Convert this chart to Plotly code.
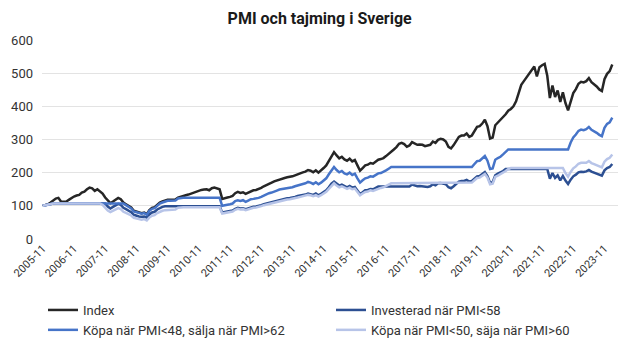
import pandas as pd
import plotly.graph_objects as go

# ---- data (monthly, 2005-11 .. 2024-02) ----
months = list(pd.period_range("2005-11", periods=220, freq="M").strftime("%Y-%m"))

tick_labels = ["2005-11", "2006-11", "2007-11", "2008-11", "2009-11", "2010-11",
               "2011-11", "2012-11", "2013-11", "2014-11", "2015-11", "2016-11",
               "2017-11", "2018-11", "2019-11", "2020-11", "2021-11", "2022-11",
               "2023-11"]

index_vals = [
    100, 102, 105, 110, 116, 122, 124, 113, 112, 112, 118, 124, 128, 131, 133, 140, 143, 150, 155, 153,
    145, 150, 143, 137, 125, 115, 108, 113, 118, 124, 120, 110, 105, 100, 95, 85, 82, 80, 78, 80,
    75, 87, 94, 96, 104, 110, 113, 116, 118, 118, 118, 119, 125, 128, 130, 132, 134, 137, 140, 143,
    146, 148, 149, 150, 147, 153, 155, 153, 150, 121, 122, 125, 127, 130, 138, 142, 139, 141, 136, 140,
    145, 147, 148, 150, 154, 159, 162, 167, 170, 174, 177, 180, 181, 184, 186, 187, 189, 192, 196, 198,
    201, 203, 208, 206, 201, 207, 200, 206, 214, 222, 236, 252, 262, 252, 243, 248, 240, 236, 242, 234,
    238, 222, 206, 214, 222, 224, 229, 227, 232, 239, 241, 244, 250, 256, 263, 270, 277, 287, 290, 286,
    278, 282, 292, 288, 284, 285, 284, 280, 281, 284, 294, 290, 299, 302, 300, 294, 278, 273, 283, 295,
    308, 312, 312, 318, 308, 312, 325, 338, 340, 348, 360, 340, 303, 306, 343, 351, 357, 366, 376, 387,
    392, 400, 415, 440, 465, 476, 487, 500, 512, 520, 490, 518, 524, 528, 492, 425, 463, 428, 448, 413,
    442, 410, 388, 418, 440, 452, 468, 474, 472, 476, 485, 473, 467, 460, 451, 446, 482, 498, 506, 526,
]

invested_58 = [
    100, 102, 105, 107, 107, 107, 107, 107, 107, 107, 107, 107, 107, 107, 107, 107, 107, 107, 107, 107,
    107, 107, 107, 107, 107, 98, 92, 97, 101, 106, 103, 94, 90, 86, 81, 73, 70, 68, 67, 68,
    64, 74, 80, 82, 89, 94, 97, 99, 99, 99, 99, 99, 99, 99, 99, 99, 99, 99, 99, 99,
    99, 99, 99, 99, 99, 99, 99, 99, 99, 80, 81, 83, 84, 86, 91, 94, 92, 93, 90, 93,
    96, 97, 98, 99, 102, 105, 107, 110, 112, 115, 117, 119, 120, 122, 123, 124, 125, 127, 130, 131,
    133, 134, 137, 136, 133, 137, 132, 136, 141, 147, 156, 167, 173, 167, 161, 164, 159, 156, 160, 155,
    157, 147, 136, 141, 147, 148, 151, 150, 153, 158, 158, 158, 158, 158, 158, 158, 158, 158, 158, 158,
    158, 158, 164, 161, 159, 160, 159, 157, 157, 159, 165, 162, 168, 169, 168, 165, 156, 153, 159, 165,
    173, 175, 175, 178, 173, 175, 182, 189, 190, 195, 202, 190, 170, 171, 192, 197, 200, 205, 211, 211,
    211, 211, 211, 211, 211, 211, 211, 211, 211, 211, 211, 211, 211, 211, 211, 182, 199, 184, 192, 177,
    190, 176, 166, 179, 189, 194, 201, 203, 202, 204, 208, 203, 200, 197, 193, 191, 207, 214, 217, 226,
]

buy48_sell62 = [
    100, 102, 105, 107, 107, 107, 107, 107, 107, 107, 107, 107, 107, 107, 107, 107, 107, 107, 107, 107,
    107, 107, 107, 107, 107, 107, 107, 107, 107, 107, 107, 107, 102, 97, 92, 83, 80, 78, 76, 78,
    73, 85, 91, 93, 101, 107, 110, 113, 115, 115, 115, 116, 122, 124, 124, 124, 124, 124, 124, 124,
    124, 124, 124, 124, 124, 124, 124, 124, 124, 100, 101, 103, 105, 107, 114, 117, 115, 117, 112, 116,
    120, 121, 122, 124, 127, 131, 134, 138, 140, 144, 146, 149, 150, 152, 154, 155, 156, 159, 162, 164,
    166, 168, 172, 170, 166, 171, 165, 170, 177, 183, 195, 208, 217, 208, 201, 205, 198, 195, 200, 193,
    197, 183, 170, 177, 183, 185, 189, 188, 192, 198, 199, 202, 207, 212, 217, 217, 217, 217, 217, 217,
    217, 217, 217, 217, 217, 217, 217, 217, 217, 217, 217, 217, 217, 217, 217, 217, 217, 217, 217, 217,
    217, 217, 217, 217, 217, 217, 226, 235, 236, 242, 250, 236, 211, 213, 239, 244, 248, 255, 262, 270,
    270, 270, 270, 270, 270, 270, 270, 270, 270, 270, 270, 270, 270, 270, 270, 270, 270, 270, 270, 270,
    270, 270, 270, 291, 306, 315, 326, 330, 328, 331, 338, 329, 325, 320, 314, 310, 335, 347, 352, 366,
]

buy50_sell60 = [
    100, 102, 105, 107, 107, 107, 107, 107, 107, 107, 107, 107, 107, 107, 107, 107, 107, 107, 107, 107,
    107, 107, 107, 103, 94, 86, 81, 85, 88, 93, 90, 82, 79, 75, 71, 64, 61, 60, 58, 60,
    56, 65, 70, 72, 78, 82, 85, 87, 88, 88, 88, 89, 94, 96, 96, 96, 96, 96, 96, 96,
    96, 96, 96, 96, 96, 96, 96, 96, 96, 77, 78, 80, 81, 83, 88, 91, 89, 90, 87, 90,
    93, 94, 95, 96, 99, 102, 104, 107, 109, 111, 113, 115, 116, 118, 119, 120, 121, 123, 125, 127,
    129, 130, 133, 132, 129, 132, 128, 132, 137, 142, 151, 161, 168, 161, 156, 159, 154, 151, 155, 150,
    152, 142, 132, 137, 142, 143, 147, 145, 148, 153, 154, 156, 160, 164, 168, 168, 168, 168, 168, 168,
    168, 168, 168, 168, 168, 168, 168, 168, 168, 168, 168, 168, 168, 168, 168, 168, 168, 168, 168, 168,
    168, 168, 168, 168, 168, 170, 177, 184, 185, 190, 196, 185, 165, 167, 187, 191, 195, 200, 205, 211,
    214, 214, 214, 214, 214, 214, 214, 214, 214, 214, 214, 214, 214, 214, 214, 214, 214, 214, 214, 214,
    214, 199, 188, 202, 213, 219, 227, 230, 229, 230, 235, 229, 226, 223, 218, 216, 233, 241, 245, 255,
]

# (name, values, colour, legend column)
series = [
    ("Index", index_vals, "#262626", "legend"),
    ("Investerad när PMI<58", invested_58, "#2c4f92", "legend2"),
    ("Köpa när PMI<48, sälja när PMI>62", buy48_sell62, "#4674c8", "legend"),
    ("Köpa när PMI<50, säja när PMI>60", buy50_sell60, "#b7c4e8", "legend2"),
]

FONT = "Roboto"

fig = go.Figure()
for name, vals, color, leg in series:
    fig.add_trace(go.Scatter(
        x=months, y=vals, name=name, mode="lines",
        line=dict(color=color, width=2.5), legend=leg,
    ))

legend_common = dict(
    orientation="v", xref="container", xanchor="left",
    y=1 - 295 / 342, yref="container", yanchor="top",
    font=dict(family=FONT, size=13, color="#333333"),
    tracegroupgap=0, itemwidth=30, bgcolor="rgba(0,0,0,0)",
)

fig.update_layout(
    width=633, height=342,
    margin=dict(l=42, r=15, t=40, b=103, autoexpand=False),
    paper_bgcolor="white", plot_bgcolor="white",
    font=dict(family=FONT, size=12, color="#333333"),
    title=dict(text="<b>PMI och tajming i Sverige</b>", x=0.505, xref="container",
               y=1 - 18 / 342, yref="container", xanchor="center", yanchor="middle",
               font=dict(family=FONT, size=16, color="#1a1a1a")),
    showlegend=True,
    legend=dict(x=43 / 633, **legend_common),
    legend2=dict(x=331 / 633, **legend_common),
)

fig.update_xaxes(
    type="category", range=[-0.3, 221.2],
    tickmode="array", tickvals=tick_labels, ticktext=tick_labels,
    tickangle=-45, showgrid=False, showline=False, zeroline=False, ticks="",
    tickfont=dict(family=FONT, size=11, color="#333333"),
    automargin=False,
)
fig.update_yaxes(
    range=[0, 600], dtick=100, showgrid=True, gridcolor="#e3e3e3", gridwidth=1,
    zeroline=False, showline=False, ticks="",
    tickfont=dict(family=FONT, size=13, color="#333333"),
    ticklabelstandoff=8, automargin=False,
)

fig.write_html("out.html")
